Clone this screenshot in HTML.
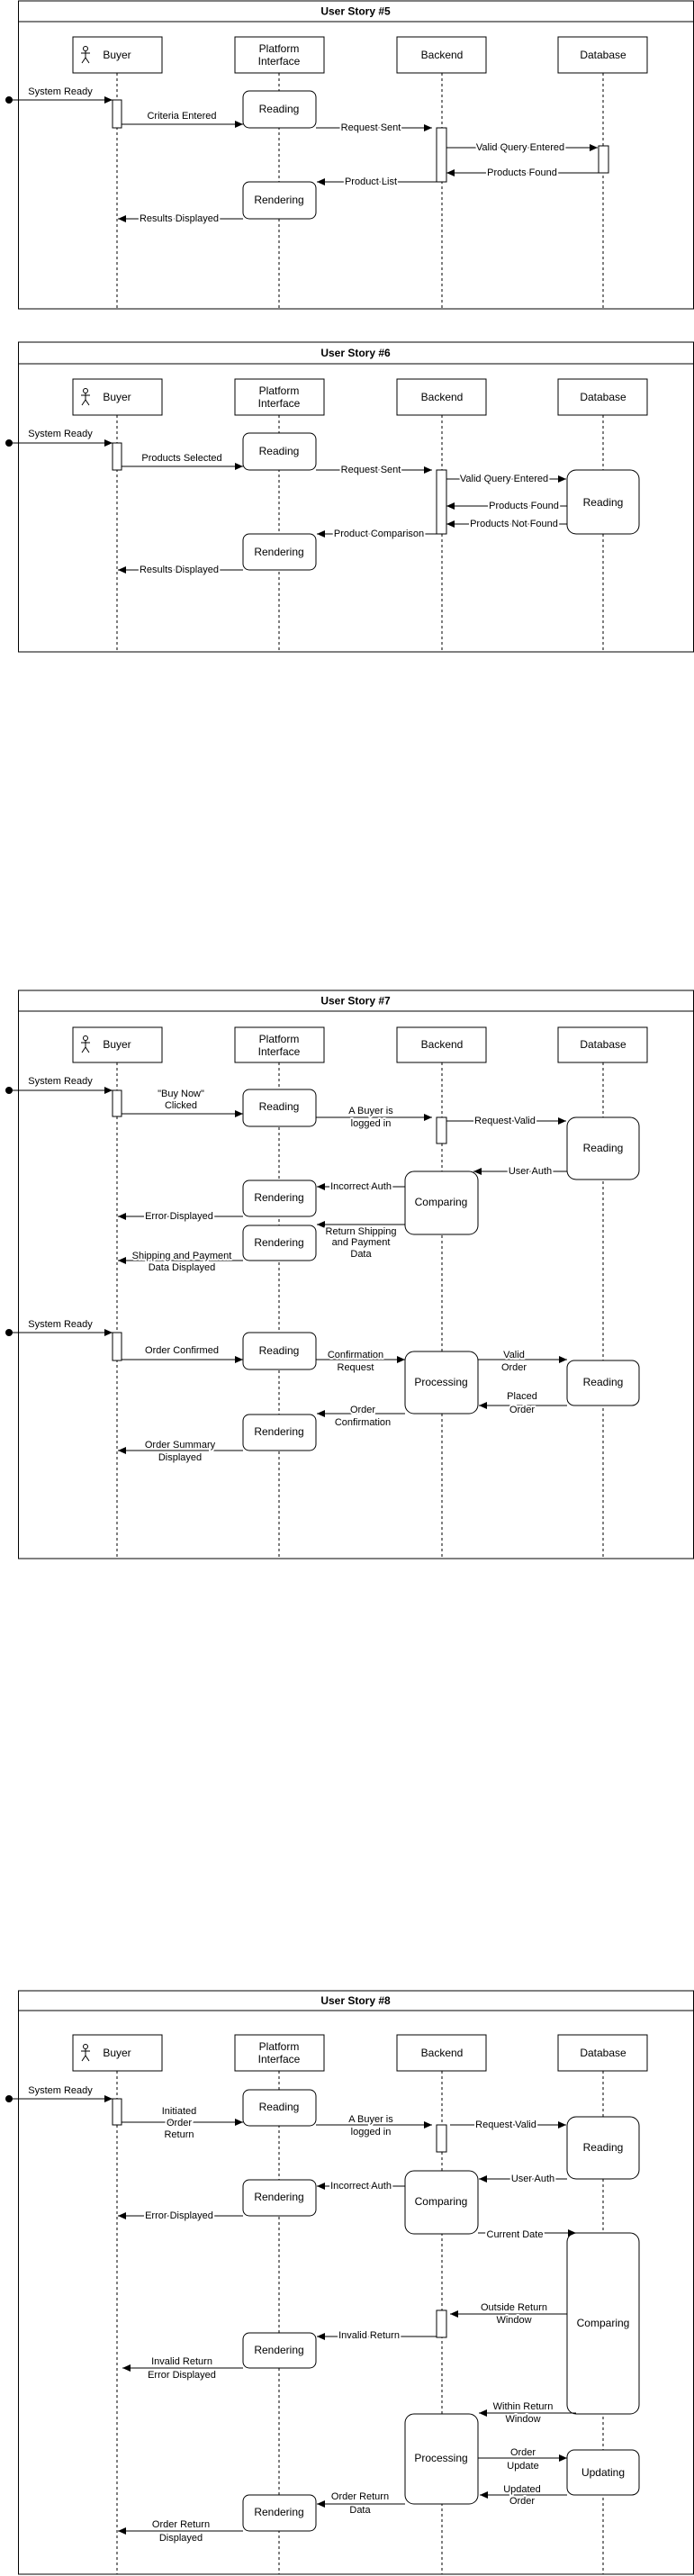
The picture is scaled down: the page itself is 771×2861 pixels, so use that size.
<!DOCTYPE html>
<html><head><meta charset="utf-8"><style>
html,body{margin:0;padding:0;background:#fff}
svg{display:block}
text{font-family:"Liberation Sans",Arial,sans-serif;fill:#000}
.l{font-size:11px;text-anchor:middle;dominant-baseline:central;stroke:#fff;stroke-width:4px;paint-order:stroke;stroke-linejoin:round}
.n{font-size:12px;text-anchor:middle;dominant-baseline:central}
.t{font-size:12px;font-weight:bold;text-anchor:middle;dominant-baseline:central}
.ll{stroke:#000;stroke-width:1;stroke-dasharray:3,3}
.b{fill:#fff;stroke:#000;stroke-width:1}
.a{stroke:#000;stroke-width:1;marker-end:url(#ar)}
</style></head><body>
<svg width="771" height="2861" viewBox="0 0 771 2861" xmlns="http://www.w3.org/2000/svg">
<defs>
<marker id="ar" markerWidth="10" markerHeight="8" refX="9" refY="4" orient="auto" markerUnits="userSpaceOnUse"><path d="M0,0 L9,4 L0,8 z" fill="#000"/></marker>
<g id="fig"><circle cx="0" cy="-7" r="2.5" fill="none" stroke="#000"/><path d="M0,-4.5 V3 M-5,-2 H5 M0,3 L-4,9 M0,3 L4,9" stroke="#000" fill="none"/></g>
</defs>

<!-- ================= STORY 5 ================= -->
<rect x="20.5" y="1" width="750" height="342" class="b"/>
<line x1="20" y1="24" x2="771" y2="24" stroke="#000"/>
<text class="t" x="395" y="12.5">User Story #5</text>
<line class="ll" x1="130" y1="81" x2="130" y2="343"/>
<line class="ll" x1="310" y1="81" x2="310" y2="343"/>
<line class="ll" x1="491" y1="81" x2="491" y2="343"/>
<line class="ll" x1="670" y1="81" x2="670" y2="343"/>
<rect class="b" x="81" y="41" width="99" height="40"/><use href="#fig" x="95" y="61"/><text class="n" x="130" y="61">Buyer</text>
<rect class="b" x="261" y="41" width="99" height="40"/><text class="n" x="310" y="54">Platform</text><text class="n" x="310" y="68">Interface</text>
<rect class="b" x="441" y="41" width="99" height="40"/><text class="n" x="491" y="61">Backend</text>
<rect class="b" x="620" y="41" width="99" height="40"/><text class="n" x="670" y="61">Database</text>
<circle cx="10" cy="111" r="4"/>
<line class="a" x1="10" y1="111" x2="125" y2="111"/><text class="l" x="67" y="102">System Ready</text>
<rect class="b" x="125" y="111" width="10" height="31"/>
<line class="a" x1="135" y1="138" x2="270" y2="138"/><text class="l" x="202" y="129">Criteria Entered</text>
<rect class="b" x="270" y="101" width="81" height="41" rx="7"/><text class="n" x="310" y="121">Reading</text>
<line class="a" x1="351" y1="142" x2="480" y2="142"/><text class="l" x="412" y="142">Request Sent</text>
<rect class="b" x="485" y="142" width="11" height="60"/>
<line class="a" x1="496" y1="164" x2="664" y2="164"/><text class="l" x="578" y="164">Valid Query Entered</text>
<rect class="b" x="665" y="162" width="11" height="30"/>
<line class="a" x1="665" y1="192" x2="496" y2="192"/><text class="l" x="580" y="192">Products Found</text>
<line class="a" x1="485" y1="202" x2="352" y2="202"/><text class="l" x="412" y="202">Product List</text>
<rect class="b" x="270" y="202" width="81" height="41" rx="7"/><text class="n" x="310" y="222">Rendering</text>
<line class="a" x1="270" y1="243" x2="131" y2="243"/><text class="l" x="199" y="243">Results Displayed</text>

<!-- ================= STORY 6 ================= -->
<rect x="20.5" y="380" width="750" height="344" class="b"/>
<line x1="20" y1="404" x2="771" y2="404" stroke="#000"/>
<text class="t" x="395" y="392">User Story #6</text>
<line class="ll" x1="130" y1="461" x2="130" y2="724"/>
<line class="ll" x1="310" y1="461" x2="310" y2="724"/>
<line class="ll" x1="491" y1="461" x2="491" y2="724"/>
<line class="ll" x1="670" y1="461" x2="670" y2="724"/>
<rect class="b" x="81" y="421" width="99" height="40"/><use href="#fig" x="95" y="441"/><text class="n" x="130" y="441">Buyer</text>
<rect class="b" x="261" y="421" width="99" height="40"/><text class="n" x="310" y="434">Platform</text><text class="n" x="310" y="448">Interface</text>
<rect class="b" x="441" y="421" width="99" height="40"/><text class="n" x="491" y="441">Backend</text>
<rect class="b" x="620" y="421" width="99" height="40"/><text class="n" x="670" y="441">Database</text>
<circle cx="10" cy="492" r="4"/>
<line class="a" x1="10" y1="492" x2="125" y2="492"/><text class="l" x="67" y="482">System Ready</text>
<rect class="b" x="125" y="492" width="10" height="30"/>
<line class="a" x1="135" y1="518" x2="270" y2="518"/><text class="l" x="202" y="509">Products Selected</text>
<rect class="b" x="270" y="481" width="81" height="41" rx="7"/><text class="n" x="310" y="501">Reading</text>
<line class="a" x1="351" y1="522" x2="480" y2="522"/><text class="l" x="412" y="522">Request Sent</text>
<rect class="b" x="485" y="522" width="11" height="71"/>
<line class="a" x1="496" y1="532" x2="629" y2="532"/><text class="l" x="560" y="532">Valid Query Entered</text>
<rect class="b" x="630" y="522" width="80" height="71" rx="10"/><text class="n" x="670" y="558">Reading</text>
<line class="a" x1="630" y1="562" x2="496" y2="562"/><text class="l" x="582" y="562">Products Found</text>
<line class="a" x1="630" y1="582" x2="496" y2="582"/><text class="l" x="571" y="582">Products Not Found</text>
<line class="a" x1="485" y1="593" x2="352" y2="593"/><text class="l" x="421" y="593">Product Comparison</text>
<rect class="b" x="270" y="593" width="81" height="40" rx="7"/><text class="n" x="310" y="613">Rendering</text>
<line class="a" x1="270" y1="633" x2="131" y2="633"/><text class="l" x="199" y="633">Results Displayed</text>

<!-- ================= STORY 7 ================= -->
<rect x="20.5" y="1100" width="750" height="631" class="b"/>
<line x1="20" y1="1123" x2="771" y2="1123" stroke="#000"/>
<text class="t" x="395" y="1111.5">User Story #7</text>
<line class="ll" x1="130" y1="1180" x2="130" y2="1731"/>
<line class="ll" x1="310" y1="1180" x2="310" y2="1731"/>
<line class="ll" x1="491" y1="1180" x2="491" y2="1731"/>
<line class="ll" x1="670" y1="1180" x2="670" y2="1731"/>
<rect class="b" x="81" y="1141" width="99" height="39"/><use href="#fig" x="95" y="1160"/><text class="n" x="130" y="1160">Buyer</text>
<rect class="b" x="261" y="1141" width="99" height="39"/><text class="n" x="310" y="1154">Platform</text><text class="n" x="310" y="1168">Interface</text>
<rect class="b" x="441" y="1141" width="99" height="39"/><text class="n" x="491" y="1160">Backend</text>
<rect class="b" x="620" y="1141" width="99" height="39"/><text class="n" x="670" y="1160">Database</text>
<circle cx="10" cy="1211" r="4"/>
<line class="a" x1="10" y1="1211" x2="125" y2="1211"/><text class="l" x="67" y="1201">System Ready</text>
<rect class="b" x="125" y="1211" width="10" height="29"/>
<line class="a" x1="135" y1="1237" x2="270" y2="1237"/><text class="l" x="201" y="1215">"Buy Now"</text><text class="l" x="201" y="1228">Clicked</text>
<rect class="b" x="270" y="1210" width="81" height="41" rx="7"/><text class="n" x="310" y="1229">Reading</text>
<line class="a" x1="351" y1="1241" x2="480" y2="1241"/><text class="l" x="412" y="1234">A Buyer is</text><text class="l" x="412" y="1248">logged in</text>
<rect class="b" x="485" y="1241" width="11" height="29"/>
<line class="a" x1="496" y1="1245" x2="629" y2="1245"/><text class="l" x="561" y="1245">Request Valid</text>
<rect class="b" x="630" y="1241" width="80" height="69" rx="10"/><text class="n" x="670" y="1275">Reading</text>
<line class="a" x1="630" y1="1301" x2="526" y2="1301"/><text class="l" x="589" y="1301">User Auth</text>
<rect class="b" x="450" y="1301" width="81" height="70" rx="10"/><text class="n" x="490" y="1335">Comparing</text>
<line class="a" x1="450" y1="1318" x2="352" y2="1318"/><text class="l" x="401" y="1318">Incorrect Auth</text>
<rect class="b" x="270" y="1311" width="81" height="40" rx="7"/><text class="n" x="310" y="1330">Rendering</text>
<line class="a" x1="270" y1="1351" x2="131" y2="1351"/><text class="l" x="199" y="1351">Error Displayed</text>
<line class="a" x1="450" y1="1360" x2="352" y2="1360"/><text class="l" x="401" y="1368">Return Shipping</text><text class="l" x="401" y="1380">and Payment</text><text class="l" x="401" y="1393">Data</text>
<rect class="b" x="270" y="1361" width="81" height="39" rx="7"/><text class="n" x="310" y="1380">Rendering</text>
<line class="a" x1="270" y1="1400" x2="131" y2="1400"/><text class="l" x="202" y="1395">Shipping and Payment</text><text class="l" x="202" y="1408">Data Displayed</text>
<circle cx="10" cy="1480" r="4"/>
<line class="a" x1="10" y1="1480" x2="125" y2="1480"/><text class="l" x="67" y="1471">System Ready</text>
<rect class="b" x="125" y="1480" width="10" height="31"/>
<line class="a" x1="135" y1="1510" x2="270" y2="1510"/><text class="l" x="202" y="1500">Order Confirmed</text>
<rect class="b" x="270" y="1480" width="81" height="41" rx="7"/><text class="n" x="310" y="1500">Reading</text>
<line class="a" x1="351" y1="1510" x2="450" y2="1510"/><text class="l" x="395" y="1505">Confirmation</text><text class="l" x="395" y="1519">Request</text>
<rect class="b" x="450" y="1501" width="81" height="69" rx="10"/><text class="n" x="490" y="1535">Processing</text>
<line class="a" x1="531" y1="1510" x2="630" y2="1510"/><text class="l" x="571" y="1505">Valid</text><text class="l" x="571" y="1519">Order</text>
<rect class="b" x="630" y="1511" width="80" height="50" rx="8"/><text class="n" x="670" y="1535">Reading</text>
<line class="a" x1="630" y1="1561" x2="532" y2="1561"/><text class="l" x="580" y="1551">Placed</text><text class="l" x="580" y="1566">Order</text>
<line class="a" x1="450" y1="1570" x2="352" y2="1570"/><text class="l" x="403" y="1566">Order</text><text class="l" x="403" y="1580">Confirmation</text>
<rect class="b" x="270" y="1571" width="81" height="40" rx="7"/><text class="n" x="310" y="1590">Rendering</text>
<line class="a" x1="270" y1="1611" x2="131" y2="1611"/><text class="l" x="200" y="1605">Order Summary</text><text class="l" x="200" y="1619">Displayed</text>

<!-- ================= STORY 8 ================= -->
<rect x="20.5" y="2211" width="750" height="648" class="b"/>
<line x1="20" y1="2233" x2="771" y2="2233" stroke="#000"/>
<text class="t" x="395" y="2222">User Story #8</text>
<line class="ll" x1="130" y1="2300" x2="130" y2="2859"/>
<line class="ll" x1="310" y1="2300" x2="310" y2="2859"/>
<line class="ll" x1="491" y1="2300" x2="491" y2="2859"/>
<line class="ll" x1="670" y1="2300" x2="670" y2="2859"/>
<rect class="b" x="81" y="2260" width="99" height="40"/><use href="#fig" x="95" y="2280"/><text class="n" x="130" y="2280">Buyer</text>
<rect class="b" x="261" y="2260" width="99" height="40"/><text class="n" x="310" y="2273">Platform</text><text class="n" x="310" y="2287">Interface</text>
<rect class="b" x="441" y="2260" width="99" height="40"/><text class="n" x="491" y="2280">Backend</text>
<rect class="b" x="620" y="2260" width="99" height="40"/><text class="n" x="670" y="2280">Database</text>
<circle cx="10" cy="2331" r="4"/>
<line class="a" x1="10" y1="2331" x2="125" y2="2331"/><text class="l" x="67" y="2322">System Ready</text>
<rect class="b" x="125" y="2331" width="10" height="29"/>
<line class="a" x1="135" y1="2357" x2="270" y2="2357"/><text class="l" x="199" y="2345">Initiated</text><text class="l" x="199" y="2358">Order</text><text class="l" x="199" y="2371">Return</text>
<rect class="b" x="270" y="2321" width="81" height="40" rx="7"/><text class="n" x="310" y="2340">Reading</text>
<line class="a" x1="351" y1="2360" x2="480" y2="2360"/><text class="l" x="412" y="2354">A Buyer is</text><text class="l" x="412" y="2368">logged in</text>
<rect class="b" x="485" y="2360" width="11" height="30"/>
<line class="a" x1="500" y1="2360" x2="629" y2="2360"/><text class="l" x="562" y="2360">Request Valid</text>
<rect class="b" x="630" y="2351" width="80" height="69" rx="10"/><text class="n" x="670" y="2385">Reading</text>
<line class="a" x1="630" y1="2420" x2="532" y2="2420"/><text class="l" x="592" y="2420">User Auth</text>
<rect class="b" x="450" y="2411" width="81" height="70" rx="10"/><text class="n" x="490" y="2445">Comparing</text>
<line class="a" x1="450" y1="2428" x2="352" y2="2428"/><text class="l" x="401" y="2428">Incorrect Auth</text>
<rect class="b" x="270" y="2421" width="81" height="40" rx="7"/><text class="n" x="310" y="2440">Rendering</text>
<line class="a" x1="270" y1="2461" x2="131" y2="2461"/><text class="l" x="199" y="2461">Error Displayed</text>
<rect class="b" x="630" y="2480" width="80" height="201" rx="10"/><text class="n" x="670" y="2580">Comparing</text>
<line class="a" x1="531" y1="2480" x2="640" y2="2480"/><text class="l" x="572" y="2482">Current Date</text>
<rect class="b" x="485" y="2566" width="11" height="30"/>
<line class="a" x1="630" y1="2570" x2="500" y2="2570"/><text class="l" x="571" y="2563">Outside Return</text><text class="l" x="571" y="2577">Window</text>
<line class="a" x1="485" y1="2595" x2="352" y2="2595"/><text class="l" x="410" y="2594">Invalid Return</text>
<rect class="b" x="270" y="2591" width="81" height="39" rx="7"/><text class="n" x="310" y="2610">Rendering</text>
<line class="a" x1="270" y1="2630" x2="136" y2="2630"/><text class="l" x="202" y="2623">Invalid Return</text><text class="l" x="202" y="2638">Error Displayed</text>
<line class="a" x1="640" y1="2680" x2="532" y2="2680"/><text class="l" x="581" y="2673">Within Return</text><text class="l" x="581" y="2687">Window</text>
<rect class="b" x="450" y="2681" width="81" height="100" rx="10"/><text class="n" x="490" y="2730">Processing</text>
<line class="a" x1="531" y1="2730" x2="630" y2="2730"/><text class="l" x="581" y="2724">Order</text><text class="l" x="581" y="2739">Update</text>
<rect class="b" x="630" y="2721" width="80" height="50" rx="8"/><text class="n" x="670" y="2746">Updating</text>
<line class="a" x1="630" y1="2771" x2="533" y2="2771"/><text class="l" x="580" y="2765">Updated</text><text class="l" x="580" y="2778">Order</text>
<line class="a" x1="450" y1="2781" x2="352" y2="2781"/><text class="l" x="400" y="2773">Order Return</text><text class="l" x="400" y="2788">Data</text>
<rect class="b" x="270" y="2771" width="81" height="40" rx="7"/><text class="n" x="310" y="2790">Rendering</text>
<line class="a" x1="270" y1="2811" x2="131" y2="2811"/><text class="l" x="201" y="2804">Order Return</text><text class="l" x="201" y="2819">Displayed</text>
</svg>
</body></html>
